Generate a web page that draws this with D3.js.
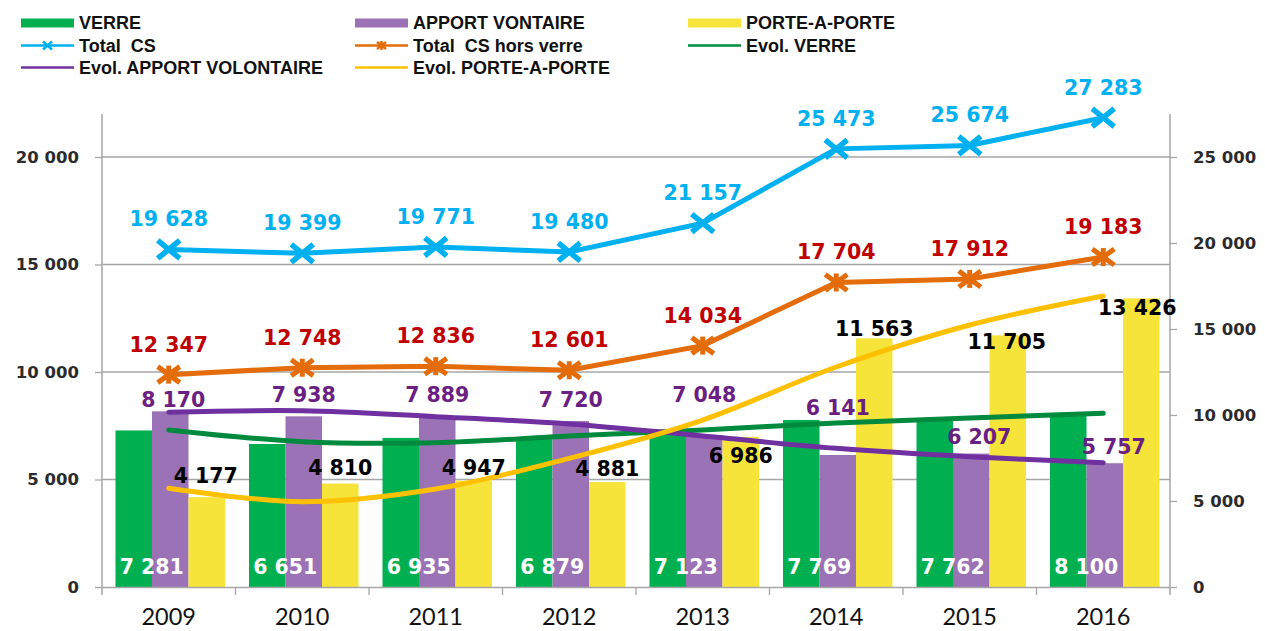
<!DOCTYPE html>
<html>
<head>
<meta charset="utf-8">
<script src="https://cdn.jsdelivr.net/npm/d3@7"></script>
<style>
  html, body { margin: 0; padding: 0; background: #fff; }
  svg { display: block; }
  text { white-space: pre; }
</style>
</head>
<body>
<svg id="chart" width="1265" height="631"></svg>
<script>
// Collecte sélective : tonnages annuels par mode de collecte
const years = ["2009", "2010", "2011", "2012", "2013", "2014", "2015", "2016"];
const verre = [7281, 6651, 6935, 6879, 7123, 7769, 7762, 8100];
const apportVolontaire = [8170, 7938, 7889, 7720, 7048, 6141, 6207, 5757];
const porteAPorte = [4177, 4810, 4947, 4881, 6986, 11563, 11705, 13426];
const totalCS = [19628, 19399, 19771, 19480, 21157, 25473, 25674, 27283];
const totalHorsVerre = [12347, 12748, 12836, 12601, 14034, 17704, 17912, 19183];
// courbes de tendance (lissées)
const evolVerre = [7302, 6758, 6712, 7023, 7302, 7630, 7860, 8079];
const evolApport = [8126, 8200, 7921, 7581, 7023, 6451, 6060, 5781];
const evolPorte = [4591, 3967, 4560, 5986, 7767, 10233, 12186, 13535];
const leftTicks = [0, 5000, 10000, 15000, 20000];
const rightTicks = [0, 5000, 10000, 15000, 20000, 25000];

// décalages manuels des étiquettes (px)
const apportLabelDx = [3, 0, 0, 0, 0, 0, 8, 9];
const apportLabelDy = [-4, -14, -15, -14, -33, -40, -10, -9];
const porteLabelDx = [-1, 0, 0, 0, 0, 0, -1, -4];
const porteLabelDy = [-14, -9, -6, -6, 26, -2, 14, 17];

const C = {
  verre: "#00b050", apport: "#9b72b5", porte: "#f6e43a",
  total: "#00b0f0", hors: "#e46c0a",
  evVerre: "#008a3e", evApport: "#7030a0", evPorte: "#ffc000",
  axis: "#a6a6a6", red: "#c00000", purpleTxt: "#6b1f82"
};

const fr = d3.formatLocale({ decimal: ",", thousands: " ", grouping: [3], currency: ["", " €"] });
const fmt = fr.format(",d");

const svg = d3.select("#chart");
const plot = { left: 102, right: 1170, top: 114, bottom: 587 };

const x = d3.scaleBand().domain(years).range([plot.left, plot.right]).padding(0);
const bw = x.bandwidth();
const keys = ["verre", "apport", "porte"];
const xs = d3.scaleBand().domain(keys).range([13.5, bw - 10.5]).padding(0);
const yL = d3.scaleLinear().domain([0, 22000]).range([plot.bottom, plot.top]);
const yR = d3.scaleLinear().domain([0, 27500]).range([plot.bottom, plot.top]);
const cx = i => x(years[i]) + bw / 2;

// quadrillage horizontal
svg.append("g").selectAll("line").data(leftTicks.filter(d => d > 0)).join("line")
  .attr("x1", plot.left).attr("x2", plot.right)
  .attr("y1", d => yL(d)).attr("y2", d => yL(d))
  .attr("stroke", C.axis).attr("stroke-width", 1.3);

// barres
const series = { verre: verre, apport: apportVolontaire, porte: porteAPorte };
keys.forEach(k => {
  svg.append("g").selectAll("rect").data(series[k]).join("rect")
    .attr("x", (d, i) => x(years[i]) + xs(k))
    .attr("width", xs.bandwidth())
    .attr("y", d => yL(d))
    .attr("height", d => plot.bottom - yL(d))
    .attr("fill", C[k]);
});

// axes
const axisG = svg.append("g");
const leftAxis = axisG.append("g").attr("transform", `translate(${plot.left},0)`)
  .call(d3.axisLeft(yL).tickValues(leftTicks).tickSize(7).tickPadding(16).tickFormat(fmt));
const rightAxis = axisG.append("g").attr("transform", `translate(${plot.right},0)`)
  .call(d3.axisRight(yR).tickValues(rightTicks).tickSize(7).tickPadding(16).tickFormat(fmt));
[leftAxis, rightAxis].forEach(g => {
  g.select(".domain").remove();
  g.selectAll(".tick line").attr("stroke", C.axis).attr("stroke-width", 1.3);
  g.selectAll(".tick text").attr("font-family", "DejaVu Sans").attr("font-weight", "bold")
    .attr("font-size", 16.5).attr("fill", "#2b2b2b");
});
axisG.append("line").attr("x1", plot.left).attr("x2", plot.left).attr("y1", plot.top).attr("y2", plot.bottom + 8)
  .attr("stroke", C.axis).attr("stroke-width", 1.5);
axisG.append("line").attr("x1", plot.right).attr("x2", plot.right).attr("y1", plot.top).attr("y2", plot.bottom + 8)
  .attr("stroke", C.axis).attr("stroke-width", 1.5);
const bottomAxis = axisG.append("g").attr("transform", `translate(0,${plot.bottom})`)
  .call(d3.axisBottom(x).tickSize(0).tickPadding(21));
bottomAxis.select(".domain").attr("stroke", C.axis).attr("stroke-width", 1.5);
bottomAxis.selectAll(".tick text").attr("font-family", "Lato").attr("font-size", 23.5).attr("fill", "#111");
axisG.append("g").selectAll("line").data(years.slice(1)).join("line")
  .attr("x1", d => x(d)).attr("x2", d => x(d))
  .attr("y1", plot.bottom).attr("y2", plot.bottom + 8)
  .attr("stroke", C.axis).attr("stroke-width", 1.3);

// lignes Total CS / Total CS hors verre
const lineR = d3.line().x((d, i) => cx(i)).y(d => yR(d));
function drawX(g, px, py, w, h, sw, color) {
  g.append("path").attr("d", `M${px - w},${py - h}L${px + w},${py + h}M${px - w},${py + h}L${px + w},${py - h}`)
    .attr("stroke", color).attr("stroke-width", sw).attr("fill", "none");
}
function drawStar(g, px, py, w, h, sw, color) {
  drawX(g, px, py, w, h, sw, color);
  g.append("path").attr("d", `M${px},${py - h - 1}L${px},${py + h + 1}`)
    .attr("stroke", color).attr("stroke-width", sw).attr("fill", "none");
}
const linesG = svg.append("g");
linesG.append("path").datum(totalCS).attr("d", lineR)
  .attr("fill", "none").attr("stroke", C.total).attr("stroke-width", 5);
totalCS.forEach((d, i) => drawX(linesG, cx(i), yR(d), 11, 9, 5.5, C.total));
linesG.append("path").datum(totalHorsVerre).attr("d", lineR)
  .attr("fill", "none").attr("stroke", C.hors).attr("stroke-width", 5);
totalHorsVerre.forEach((d, i) => drawStar(linesG, cx(i), yR(d), 11, 8, 5, C.hors));

// courbes d'évolution
const smooth = d3.line().x((d, i) => cx(i)).y(d => yL(d)).curve(d3.curveCatmullRom.alpha(0.5));
[[evolVerre, C.evVerre], [evolApport, C.evApport], [evolPorte, C.evPorte]].forEach(([data, col]) => {
  svg.append("path").datum(data).attr("d", smooth)
    .attr("fill", "none").attr("stroke", col).attr("stroke-width", 5).attr("stroke-linecap", "round");
});

// étiquettes de valeurs
const lab = svg.append("g").attr("font-family", "DejaVu Sans").attr("font-weight", "bold")
  .attr("font-size", 20.5).attr("text-anchor", "middle");
totalCS.forEach((d, i) => lab.append("text").attr("x", cx(i)).attr("y", yR(d) - 23).attr("fill", C.total).text(fmt(d)));
totalHorsVerre.forEach((d, i) => lab.append("text").attr("x", cx(i)).attr("y", yR(d) - 23).attr("fill", C.red).text(fmt(d)));
apportVolontaire.forEach((d, i) => lab.append("text")
  .attr("x", x(years[i]) + xs("apport") + xs.bandwidth() / 2 + apportLabelDx[i])
  .attr("y", yL(d) + apportLabelDy[i]).attr("fill", C.purpleTxt).text(fmt(d)));
porteAPorte.forEach((d, i) => lab.append("text")
  .attr("x", x(years[i]) + xs("porte") + xs.bandwidth() / 2 + porteLabelDx[i])
  .attr("y", yL(d) + porteLabelDy[i]).attr("fill", "#000").text(fmt(d)));
verre.forEach((d, i) => lab.append("text")
  .attr("x", x(years[i]) + xs("verre") + xs.bandwidth() / 2 + 18)
  .attr("y", plot.bottom - 13).attr("fill", "#fff").text(fmt(d)));

// légende
const legend = svg.append("g").attr("font-family", "Liberation Sans").attr("font-weight", "bold")
  .attr("font-size", 18).attr("fill", "#111");
const cols = [21, 355, 688];
const rows = [23, 45.5, 67.5];
const legendItems = [
  { label: "VERRE", type: "rect", color: C.verre, c: 0, r: 0 },
  { label: "APPORT VONTAIRE", type: "rect", color: C.apport, c: 1, r: 0 },
  { label: "PORTE-A-PORTE", type: "rect", color: C.porte, c: 2, r: 0 },
  { label: "Total  CS", type: "x", color: C.total, c: 0, r: 1 },
  { label: "Total  CS hors verre", type: "star", color: C.hors, c: 1, r: 1 },
  { label: "Evol. VERRE", type: "line", color: C.evVerre, c: 2, r: 1 },
  { label: "Evol. APPORT VOLONTAIRE", type: "line", color: C.evApport, c: 0, r: 2 },
  { label: "Evol. PORTE-A-PORTE", type: "line", color: C.evPorte, c: 1, r: 2 }
];
legendItems.forEach(it => {
  const lx = cols[it.c], ly = rows[it.r];
  if (it.type === "rect") {
    legend.append("rect").attr("x", lx).attr("y", ly - 4.5).attr("width", 53).attr("height", 9).attr("fill", it.color);
  } else {
    legend.append("line").attr("x1", lx).attr("x2", lx + 53).attr("y1", ly).attr("y2", ly)
      .attr("stroke", it.color).attr("stroke-width", 2.5);
    if (it.type === "x") drawX(legend, lx + 26.5, ly, 4.5, 4, 2.5, it.color);
    if (it.type === "star") drawStar(legend, lx + 26.5, ly, 4.5, 3.5, 2.5, it.color);
  }
  legend.append("text").attr("x", lx + 58).attr("y", ly + 6.4).text(it.label);
});
</script>
</body>
</html>
